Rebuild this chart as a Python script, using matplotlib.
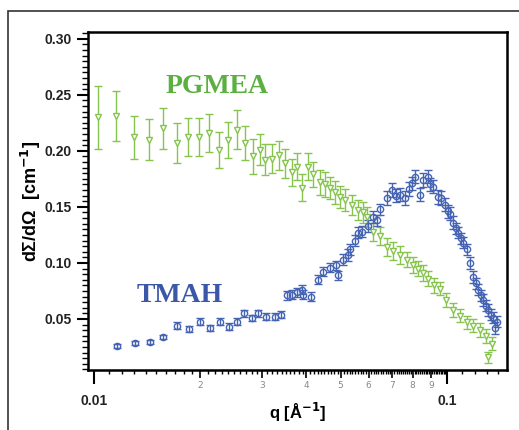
import matplotlib
matplotlib.use('Agg')
import matplotlib.pyplot as plt
import matplotlib.ticker as mticker
from matplotlib.patches import Rectangle

# PGMEA series: q [1/A], dSigma/dOmega [1/cm], error
pgmea_q = [0.01026, 0.01154, 0.01298, 0.01432, 0.01569, 0.01719, 0.01847, 0.01984,
           0.02117, 0.02260, 0.02397, 0.02542, 0.02678, 0.02821, 0.02953, 0.03051,
           0.03193, 0.03342, 0.03476, 0.03638, 0.03759, 0.03884, 0.04039, 0.04173,
           0.04368, 0.04513, 0.04663, 0.04817, 0.04977, 0.05140, 0.05382, 0.05597,
           0.05781, 0.05934, 0.06171, 0.06460, 0.06761, 0.07031, 0.07360, 0.07703,
           0.08010, 0.08276, 0.08551, 0.08836, 0.09188, 0.09555, 0.09936, 0.1040,
           0.1089, 0.1139, 0.1185, 0.1240, 0.1290, 0.1307, 0.1341]
pgmea_i = [0.230, 0.231, 0.212, 0.210, 0.220, 0.207, 0.212, 0.212,
           0.216, 0.201, 0.210, 0.219, 0.207, 0.195, 0.201, 0.192,
           0.193, 0.196, 0.189, 0.181, 0.186, 0.167, 0.186, 0.179,
           0.172, 0.170, 0.167, 0.163, 0.159, 0.156, 0.152, 0.147,
           0.145, 0.141, 0.128, 0.124, 0.114, 0.111, 0.107, 0.103,
           0.098, 0.095, 0.091, 0.086, 0.080, 0.077, 0.067, 0.058,
           0.053, 0.047, 0.044, 0.040, 0.035, 0.016, 0.028]
pgmea_err = [0.028, 0.022, 0.019, 0.018, 0.018, 0.018, 0.017, 0.017,
             0.017, 0.016, 0.016, 0.017, 0.015, 0.016, 0.014, 0.014,
             0.013, 0.013, 0.013, 0.012, 0.012, 0.012, 0.012, 0.011,
             0.011, 0.011, 0.010, 0.010, 0.010, 0.010, 0.009, 0.009,
             0.009, 0.009, 0.008, 0.008, 0.008, 0.008, 0.008, 0.007,
             0.007, 0.007, 0.007, 0.007, 0.007, 0.006, 0.006, 0.006,
             0.006, 0.006, 0.006, 0.006, 0.006, 0.005, 0.006]

# TMAH series
tmah_q = [0.01162, 0.01307, 0.01441, 0.01569, 0.01719, 0.01858, 0.01997, 0.02131,
          0.02275, 0.02412, 0.02542, 0.02660, 0.02803, 0.02915, 0.03071, 0.03256,
          0.03387, 0.03522, 0.03638, 0.03759, 0.03884, 0.03909, 0.04119, 0.04311,
          0.04454, 0.04663, 0.04849, 0.04912, 0.05075, 0.05243, 0.05312, 0.05488,
          0.05597, 0.05743, 0.05973, 0.06171, 0.06335, 0.06460, 0.06761, 0.06985,
          0.07170, 0.07360, 0.07603, 0.07804, 0.07958, 0.08115, 0.08385, 0.08551,
          0.08836, 0.08951, 0.09128, 0.09430, 0.09616, 0.09870, 0.1006, 0.1020,
          0.1040, 0.1060, 0.1074, 0.1096, 0.1110, 0.1139, 0.1162, 0.1185,
          0.1208, 0.1224, 0.1248, 0.1265, 0.1290, 0.1307, 0.1332, 0.1350,
          0.1368, 0.1385]
tmah_i = [0.026, 0.0285, 0.0295, 0.034, 0.044, 0.041, 0.0475, 0.042,
          0.0475, 0.043, 0.0475, 0.055, 0.051, 0.055, 0.052, 0.052,
          0.054, 0.071, 0.0715, 0.074, 0.076, 0.0715, 0.070, 0.085,
          0.092, 0.0955, 0.098, 0.089, 0.103, 0.107, 0.112, 0.120,
          0.127, 0.128, 0.133, 0.141, 0.138, 0.148, 0.158, 0.165,
          0.160, 0.161, 0.158, 0.166, 0.171, 0.177, 0.161, 0.174,
          0.177, 0.170, 0.168, 0.159, 0.158, 0.152, 0.146, 0.144,
          0.136, 0.131, 0.127, 0.122, 0.118, 0.112, 0.100, 0.0875,
          0.082, 0.076, 0.071, 0.067, 0.062, 0.058, 0.054, 0.051,
          0.042, 0.0475]
tmah_err = [0.0015, 0.0015, 0.002, 0.002, 0.003, 0.003, 0.003, 0.003,
            0.003, 0.003, 0.003, 0.003, 0.003, 0.003, 0.003, 0.003,
            0.003, 0.004, 0.004, 0.004, 0.004, 0.004, 0.004, 0.004,
            0.004, 0.004, 0.004, 0.004, 0.005, 0.005, 0.005, 0.005,
            0.005, 0.005, 0.005, 0.005, 0.005, 0.005, 0.006, 0.006,
            0.006, 0.006, 0.006, 0.006, 0.006, 0.006, 0.006, 0.006,
            0.006, 0.006, 0.006, 0.006, 0.006, 0.006, 0.006, 0.006,
            0.006, 0.005, 0.005, 0.005, 0.005, 0.005, 0.005, 0.005,
            0.005, 0.005, 0.005, 0.005, 0.005, 0.005, 0.005, 0.005,
            0.005, 0.005]

mid_ticks = [0.02, 0.03, 0.04, 0.05, 0.06, 0.07, 0.08, 0.09]
mid_labels = ['2', '3', '4', '5', '6', '7', '8', '9']

green = '#86c44e'
blue = '#4563b3'

fig = plt.figure(figsize=(5.19, 4.30), dpi=100)
fig.patches.append(Rectangle((8/519, -0.05), 1.1, 1 - 11/430 + 0.05, transform=fig.transFigure,
                             fill=False, edgecolor='#333333', linewidth=1.2))
ax = fig.add_axes([88/519, 1 - 370/430, (507 - 88)/519, (370 - 32)/430])

ax.errorbar(pgmea_q, pgmea_i, yerr=pgmea_err, fmt='v', color=green, mfc='white',
            mec=green, ms=5, mew=1.0, elinewidth=1.0, capsize=3, capthick=1.0)
ax.errorbar(tmah_q, tmah_i, yerr=tmah_err, fmt='o', color=blue, mfc='none',
            mec=blue, ms=4.5, mew=1.0, elinewidth=1.0, capsize=3, capthick=1.0)

ax.set_xscale('log')
ax.set_xlim(0.00962, 0.148)
ax.set_ylim(0.0045, 0.306)

# x ticks
ax.xaxis.set_major_locator(mticker.FixedLocator([0.01, 0.1]))
ax.xaxis.set_major_formatter(mticker.FixedFormatter(['0.01', '0.1']))
fine = [0.01 + k * 0.001 for k in range(1, 90) if (k % 10) != 0] + [0.1 + k * 0.01 for k in range(1, 5)]
ax.xaxis.set_minor_locator(mticker.FixedLocator(fine))
ax.xaxis.set_minor_formatter(mticker.NullFormatter())
ax.tick_params(axis='x', which='major', direction='out', length=10, width=1.5, pad=7,
               labelsize=10)
ax.tick_params(axis='x', which='minor', direction='out', length=3, width=1.0)
for m, lab in zip(mid_ticks, mid_labels):
    ax.text(m, -0.045, lab, transform=ax.get_xaxis_transform(),
            ha='center', va='center', fontsize=6.5, color='#888888')
ax2 = ax.secondary_xaxis('bottom')
ax2.set_xticks(mid_ticks)
ax2.tick_params(axis='x', direction='out', length=6, width=1.2, labelbottom=False)

# y ticks
ax.yaxis.set_major_locator(mticker.MultipleLocator(0.05))
ax.yaxis.set_minor_locator(mticker.MultipleLocator(0.005))
ax.yaxis.set_major_formatter(mticker.FormatStrFormatter('%.2f'))
ax.tick_params(axis='y', which='major', direction='out', length=8, width=1.5, labelsize=10)
ax.tick_params(axis='y', which='minor', direction='out', length=4, width=1.0)

for lab in ax.get_xticklabels() + ax.get_yticklabels():
    lab.set_fontweight('bold')
    lab.set_family('Liberation Sans')
    lab.set_color('#222222')

for s in ax.spines.values():
    s.set_linewidth(1.8)

ax.set_ylabel('d\u03a3/d\u03a9  [cm$^{\\mathbf{-1}}$]', fontsize=13, fontweight='bold',
              family='Liberation Sans', labelpad=1)
ax.set_xlabel('q [\u00c5$^{\\mathbf{-1}}$]', fontsize=12, fontweight='bold',
              family='Liberation Sans', labelpad=-5)

ax.text(0.3093, 0.84, 'PGMEA', transform=ax.transAxes, ha='center', va='center',
        fontsize=20, fontweight='bold', family='Liberation Serif', color='#5bb040')
ax.text(0.2196, 0.22, 'TMAH', transform=ax.transAxes, ha='center', va='center',
        fontsize=20, fontweight='bold', family='Liberation Serif', color='#3b58a8')

fig.savefig('out.png', dpi=100)
